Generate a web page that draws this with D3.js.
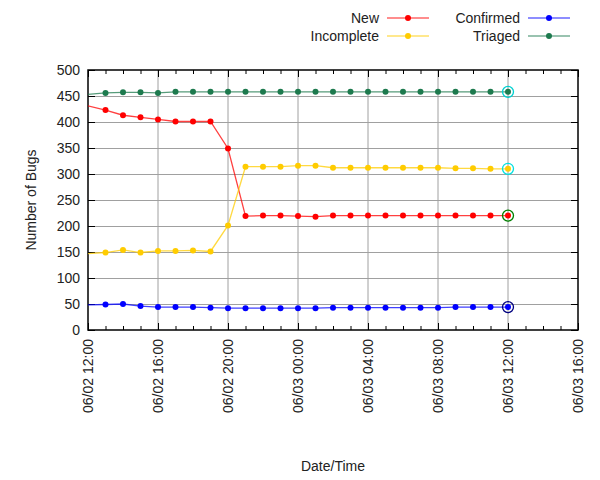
<!DOCTYPE html>
<html lang="en">
<head>
<meta charset="UTF-8">
<title>Bugs</title>
<style>
  body { margin: 0; background: #fff; }
  text { font-family: "Liberation Sans", Arial, sans-serif; font-size: 14px; fill: #222; }
</style>
</head>
<body>
<script src="https://cdn.jsdelivr.net/npm/d3@7"></script>
<script>
// sample times (the first one sits left of the axis and gets clipped)
var times = ['06/02 11:00','06/02 13:00','06/02 14:00','06/02 15:00','06/02 16:00','06/02 17:00',
  '06/02 18:00','06/02 19:00','06/02 20:00','06/02 21:00','06/02 22:00','06/02 23:00',
  '06/03 00:00','06/03 01:00','06/03 02:00','06/03 03:00','06/03 04:00','06/03 05:00',
  '06/03 06:00','06/03 07:00','06/03 08:00','06/03 09:00','06/03 10:00','06/03 11:00','06/03 12:00']
var newBugs =    [439,423,413,409,405,401,401,401,349,219,220,220,219,218,220,220,220,220,220,220,220,220,220,220,220]
var incomplete = [145,149,154,149,152,152,153,151,201,314,314,314,316,316,312,312,312,312,312,312,312,311,311,310,310]
var confirmed =  [48,49,50,46,44,44,44,43,42,42,42,42,42,42,43,43,43,43,43,43,43,44,44,44,44]
var triaged =    [450,456,457,457,456,458,458,458,458,458,458,458,458,458,458,458,458,458,458,458,458,458,458,458,458]
var xRange = ['06/02 12:00','06/03 16:00']
var yTicks = [0,50,100,150,200,250,300,350,400,450,500]

var parse = d3.timeParse('%Y %m/%d %H:%M')
var toDate = s => parse('2020 ' + s)

var series = [
  {name:'New', values:newBugs, color:'#ff0000', ring:'#008000'},
  {name:'Incomplete', values:incomplete, color:'#ffcc00', ring:'#00e0e0'},
  {name:'Confirmed', values:confirmed, color:'#0000ff', ring:'#000080'},
  {name:'Triaged', values:triaged, color:'#1d7a4e', ring:'#00d0d0'}
]

var W = 600, H = 480
var m = {left:88, right:22, top:70, bottom:150}
var svg = d3.select('body').append('svg').attr('width',W).attr('height',H)

var x = d3.scaleTime().domain(xRange.map(toDate)).range([m.left, W-m.right])
var y = d3.scaleLinear().domain([0,500]).range([H-m.bottom, m.top])

svg.append('defs').append('clipPath').attr('id','clip')
  .append('rect').attr('x',m.left).attr('y',m.top)
  .attr('width',W-m.right-m.left).attr('height',H-m.bottom-m.top)

var majors = x.ticks(d3.timeHour.every(4))
var minors = x.ticks(d3.timeHour.every(1))

// grid
var grid = svg.append('g').attr('stroke','#a0a0a0').attr('stroke-width',1)
grid.selectAll('.gy').data(yTicks.slice(1,-1)).enter().append('line')
  .attr('x1',m.left).attr('x2',W-m.right).attr('y1',d=>y(d)+0.5).attr('y2',d=>y(d)+0.5)
grid.selectAll('.gx').data(majors.slice(1,-1)).enter().append('line')
  .attr('y1',m.top).attr('y2',H-m.bottom).attr('x1',d=>x(d)).attr('x2',d=>x(d))

// axes (ticks pointing in, mirrored)
var fmt = d3.timeFormat('%m/%d %H:%M')
var axB = svg.append('g').attr('transform',`translate(0,${H-m.bottom})`)
  .call(d3.axisBottom(x).tickValues(majors).tickFormat(fmt).tickSizeInner(-7).tickSizeOuter(0))
axB.selectAll('text').attr('transform','rotate(-90)').attr('text-anchor','end')
  .attr('x',-9).attr('y',0).attr('dy','0.35em')
svg.append('g').attr('transform',`translate(0,${H-m.bottom})`)
  .call(d3.axisBottom(x).tickValues(minors).tickFormat('').tickSizeInner(-4).tickSizeOuter(0))
svg.append('g').attr('transform',`translate(0,${m.top})`)
  .call(d3.axisTop(x).tickValues(majors).tickFormat('').tickSizeInner(-7).tickSizeOuter(0))
svg.append('g').attr('transform',`translate(0,${m.top})`)
  .call(d3.axisTop(x).tickValues(minors).tickFormat('').tickSizeInner(-4).tickSizeOuter(0))
var axL = svg.append('g').attr('transform',`translate(${m.left},0)`)
  .call(d3.axisLeft(y).tickValues(yTicks).tickSizeInner(-7).tickSizeOuter(0))
axL.selectAll('text').attr('x',-8)
svg.append('g').attr('transform',`translate(${W-m.right},0)`)
  .call(d3.axisRight(y).tickValues(yTicks).tickFormat('').tickSizeInner(-7).tickSizeOuter(0))
svg.selectAll('.domain').remove()
svg.selectAll('.tick line').attr('stroke','#000')
svg.selectAll('.tick text').style('font-size','14px').attr('fill','#222')

svg.append('rect').attr('x',m.left).attr('y',m.top)
  .attr('width',W-m.right-m.left).attr('height',H-m.bottom-m.top)
  .attr('fill','none').attr('stroke','#000').attr('stroke-width',1.5)

// series
var line = d3.line().x((d,i)=>x(toDate(times[i]))).y(d=>y(d))
var plot = svg.append('g').attr('clip-path','url(#clip)')
series.forEach(function(s){
  plot.append('path').datum(s.values).attr('d',line)
    .attr('fill','none').attr('stroke',s.color).attr('stroke-width',1.3).attr('stroke-opacity',0.75)
  plot.selectAll(null).data(s.values).enter().append('circle')
    .attr('cx',(d,i)=>x(toDate(times[i]))).attr('cy',d=>y(d)).attr('r',3).attr('fill',s.color)
  var last = s.values.length-1
  plot.append('circle').attr('cx',x(toDate(times[last]))).attr('cy',y(s.values[last]))
    .attr('r',5.5).attr('fill','none').attr('stroke',s.ring).attr('stroke-width',1.3)
})

// legend
var legPos = [[379,18],[379,36],[520,18],[520,36]]
series.forEach(function(s,i){
  var p = legPos[i]
  var g = svg.append('g').attr('transform',`translate(${p[0]},${p[1]})`)
  g.append('text').attr('text-anchor','end').attr('dy','0.35em').text(s.name)
  g.append('line').attr('x1',8).attr('x2',50).attr('stroke',s.color)
    .attr('stroke-width',1.5).attr('stroke-opacity',0.6)
  g.append('circle').attr('cx',29).attr('r',3).attr('fill',s.color)
})

// titles
svg.append('text').attr('transform',`translate(36,${(m.top+H-m.bottom)/2}) rotate(-90)`)
  .attr('text-anchor','middle').text('Number of Bugs')
svg.append('text').attr('x',333).attr('y',471).attr('text-anchor','middle').text('Date/Time')
</script>
</body>
</html>
